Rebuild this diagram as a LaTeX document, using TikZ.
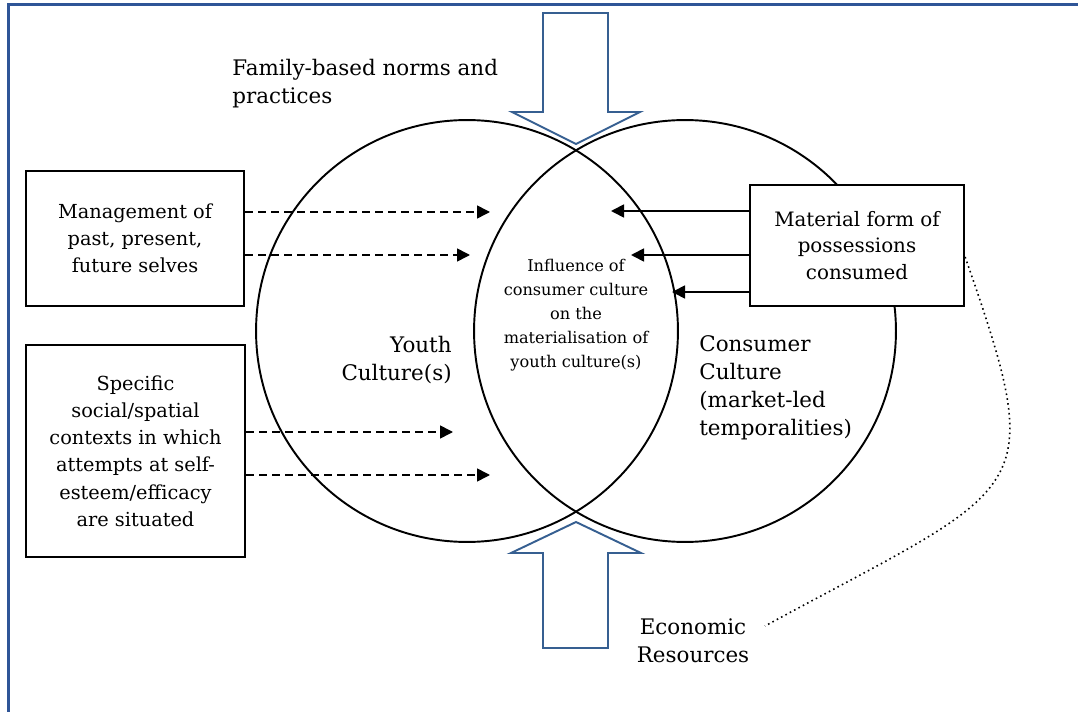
\documentclass[tikz,border=0pt]{standalone}
\usepackage{fontspec}
\setmainfont{DejaVu Serif}
\usetikzlibrary{arrows.meta}
\definecolor{frameblue}{RGB}{47,85,151}
\definecolor{arrowblue}{RGB}{54,95,145}
\tikzstyle{box} = [draw, line width=1.3pt, fill=white, align=center, inner sep=0pt, font=\fontsize{11}{15.5}\selectfont]
\tikzstyle{ring} = [draw, circle, line width=1.1pt, inner sep=0pt, minimum size=8.44cm]
\tikzstyle{bigtext} = [inner sep=0pt, font=\fontsize{12.2}{16}\selectfont]
\tikzstyle{midtext} = [inner sep=0pt, align=center, font=\fontsize{9.2}{13.7}\selectfont]
\tikzstyle{dasharrow} = [-{Triangle[length=0.26cm,width=0.26cm]}, line width=0.9pt, dash pattern=on 0.16cm off 0.1cm]
\tikzstyle{solidarrow} = [-{Triangle[length=0.26cm,width=0.26cm]}, line width=1pt]
\tikzstyle{blockarrow} = [draw=arrowblue, line width=1.1pt, fill=white, line join=miter]
\tikzstyle{dotline} = [line width=0.9pt, dash pattern=on 0.9pt off 1.9pt]

\begin{document}
\begin{tikzpicture}[x=0.02cm, y=-0.02cm]
        \useasboundingbox (0,0) rectangle (1078,712);
        % frame
        \draw[frameblue, line width=1.7pt] (8.5,712) -- (8.5,4.5) -- (1078,4.5);

        % the two cultures
        \node[ring] (youthc) at (467,331) {};
        \node[ring] (consc) at (685,331) {};

        % block arrows
        \draw[blockarrow] (543,13) -- (608,13) -- (608,112) -- (640,112) -- (576,144) -- (512,112) -- (543,112) -- cycle;
        \draw[blockarrow] (543,648) -- (608,648) -- (608,553) -- (641,553) -- (576,522) -- (511,553) -- (543,553) -- cycle;

        % boxes
        \node[box, minimum width=4.36cm, minimum height=2.7cm] (mgmt) at (135,238.5) {Management of\\past, present,\\future selves};
        \node[box, minimum width=4.38cm, minimum height=4.24cm] (ctx) at (135.5,451) {Specific\\social/spatial\\contexts in which\\attempts at self-\\esteem/efficacy\\are situated};
        \node[box, minimum width=4.28cm, minimum height=2.42cm, font=\fontsize{11.3}{15}\selectfont] (matbox) at (857,245.5) {Material form of\\possessions\\consumed};

        % texts
        \node[bigtext, anchor=west, align=left] (family) at (232,84) {Family-based norms and\\practices};
        \node[bigtext, anchor=east, align=right] (youth) at (452,360) {Youth\\Culture(s)};
        \node[bigtext, anchor=west, align=left] (consumer) at (699,388) {Consumer\\Culture\\(market-led\\temporalities)};
        \node[bigtext, align=center] (eco) at (693,641) {Economic\\Resources};
        \node[midtext] (influence) at (576,315) {Influence of\\consumer culture\\on the\\materialisation of\\youth culture(s)};

        % arrow ends
        \coordinate (d1) at (490,212);
        \coordinate (d2) at (470,255);
        \coordinate (d3) at (453,432);
        \coordinate (d4) at (490,475);
        \coordinate (s1) at (611,211);
        \coordinate (s2) at (631,255);
        \coordinate (s3) at (672,292);
        \coordinate (dotend) at (765,626);

        \draw[dasharrow] (mgmt.east |- d1) -- (d1);
        \draw[dasharrow] (mgmt.east |- d2) -- (d2);
        \draw[dasharrow] (ctx.east |- d3) -- (d3);
        \draw[dasharrow] (ctx.east |- d4) -- (d4);
        \draw[solidarrow] (matbox.west |- s1) -- (s1);
        \draw[solidarrow] (matbox.west |- s2) -- (s2);
        \draw[solidarrow] (matbox.west |- s3) -- (s3);

        \draw[dotline] (matbox.east |- 0,257) .. controls (1050,500) and (1030,482) .. (dotend);
\end{tikzpicture}
\end{document}
